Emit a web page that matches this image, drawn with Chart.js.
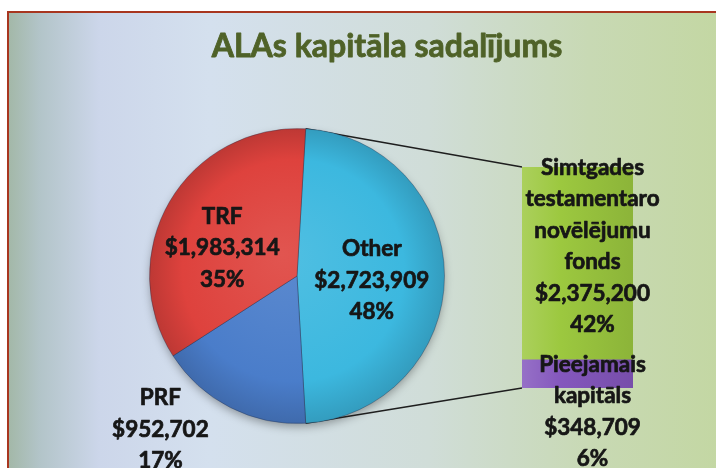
<!DOCTYPE html>
<html>
<head>
<meta charset="utf-8">
<script src="https://cdn.jsdelivr.net/npm/chart.js@4.4.0/dist/chart.umd.min.js"></script>
<style>
  html, body { margin: 0; padding: 0; width: 716px; height: 468px; overflow: hidden; background: #fff; }
  #frame {
    position: absolute; left: 7px; top: 11px; width: 720px; height: 470px;
    border-left: 2px solid #a8361f; border-top: 2px solid #a8361f;
    background: linear-gradient(to right, #a3b8a8 0px, #b2c4c8 30px, #ccd6ea 90px, #d4e0ee 200px,
      #d0ddd8 420px, #c8d9b4 580px, #c3d7a2 716px);
  }
  canvas { position: absolute; left: 0; top: 0; }
</style>
</head>
<body>
<div id="frame"></div>
<canvas id="bar" width="716" height="468"></canvas>
<canvas id="pie" width="716" height="468"></canvas>
<script>
  // data
  const chartTitle = 'ALAs kapitāla sadalījums';
  const pieLabels = ['Other', 'PRF', 'TRF'];
  const pieValues = [2723909, 952702, 1983314];
  // secondary bar (breakdown of "Other"), bottom to top
  const splitLabels = [['Pieejamais', 'kapitāls'], ['Simtgades', 'testamentaro', 'novēlējumu', 'fonds']];
  const splitValues = [348709, 2375200];

  const pieColors = ['#3cb8df', '#4a7dca', '#de423d'];
  const splitColors = ['#8457bd', '#9cc83f'];

  const total = pieValues.reduce((a, b) => a + b, 0);
  const splitTotal = splitValues.reduce((a, b) => a + b, 0);
  const money = v => '$' + v.toLocaleString('en-US');
  const pct = v => Math.round(v / total * 100) + '%';

  const labelFont = 'bold 22.5px Lato';
  const lineGap = 31.5;

  function shade(hex, amt) {
    // amt > 0 lightens, < 0 darkens
    const n = parseInt(hex.slice(1), 16);
    let r = n >> 16, g = (n >> 8) & 255, b = n & 255;
    const t = amt > 0 ? 255 : 0, p = Math.abs(amt);
    r = Math.round(r + (t - r) * p); g = Math.round(g + (t - g) * p); b = Math.round(b + (t - b) * p);
    return `rgb(${r},${g},${b})`;
  }

  // heavier text (the original uses a heavy bold face)
  function heavyText(ctx, t, x, y, w) {
    ctx.lineWidth = w;
    ctx.strokeStyle = ctx.fillStyle;
    ctx.lineJoin = 'round';
    ctx.strokeText(t, x, y);
    ctx.fillText(t, x, y);
  }

  function drawBlock(ctx, lines, x, y) {
    const n = lines.length;
    lines.forEach((t, i) => heavyText(ctx, t, x, y + (i - (n - 1) / 2) * lineGap, 0.7));
  }

  // ---------- secondary stacked bar ----------
  const barLabelOffsets = [[15, 38], [15, -17]];
  const barLabels = {
    id: 'barLabels',
    afterDatasetsDraw(chart) {
      const ctx = chart.ctx;
      ctx.save();
      ctx.font = labelFont;
      ctx.fillStyle = '#161616';
      ctx.textAlign = 'center';
      ctx.textBaseline = 'middle';
      splitValues.forEach((v, i) => {
        const el = chart.getDatasetMeta(i).data[0];
        const lines = [...splitLabels[i], money(v), pct(v)];
        drawBlock(ctx, lines, el.x + barLabelOffsets[i][0], (el.y + el.base) / 2 + barLabelOffsets[i][1]);
      });
      ctx.restore();
    }
  };

  const barChart = new Chart(document.getElementById('bar'), {
    type: 'bar',
    data: {
      labels: [''],
      datasets: splitValues.map((v, i) => ({
        label: splitLabels[i].join(' '),
        data: [v],
        backgroundColor: (c) => {
          const a = c.chart.chartArea;
          if (!a) return splitColors[i];
          const g = c.chart.ctx.createLinearGradient(a.left, 0, a.right, 0);
          g.addColorStop(0, shade(splitColors[i], 0.15));
          g.addColorStop(0.35, splitColors[i]);
          g.addColorStop(1, shade(splitColors[i], -0.1));
          return g;
        },
        borderWidth: 0,
        barPercentage: 1,
        categoryPercentage: 1
      }))
    },
    options: {
      responsive: false,
      animation: false,
      layout: { padding: { left: 522, right: 83, top: 167, bottom: 80 } },
      scales: {
        x: { display: false, stacked: true },
        y: { display: false, stacked: true, min: 0, max: splitTotal }
      },
      plugins: { legend: { display: false }, tooltip: { enabled: false } }
    },
    plugins: [barLabels]
  });

  // ---------- main pie ----------
  const titlePlugin = {
    id: 'titleText',
    afterDraw(chart) {
      const ctx = chart.ctx;
      ctx.save();
      ctx.font = 'bold 32px Lato';
      ctx.fillStyle = '#4f6228';
      ctx.textAlign = 'center';
      ctx.textBaseline = 'middle';
      heavyText(ctx, chartTitle, 387, 47, 0.8);
      ctx.restore();
    }
  };

  // shadow + series lines to the bar, drawn under the slices
  const connector = {
    id: 'connector',
    beforeDatasetsDraw(chart) {
      const ctx = chart.ctx;
      const arc = chart.getDatasetMeta(0).data[0];
      const R = arc.outerRadius;
      ctx.save();
      ctx.shadowColor = 'rgba(0,0,0,0.35)';
      ctx.shadowBlur = 10;
      ctx.shadowOffsetY = 4;
      ctx.fillStyle = '#777';
      ctx.beginPath();
      ctx.arc(arc.x, arc.y, R - 1, 0, Math.PI * 2);
      ctx.fill();
      ctx.restore();

      const top = barChart.getDatasetMeta(splitValues.length - 1).data[0];
      const bottom = barChart.getDatasetMeta(0).data[0];
      const left = top.x - top.width / 2;
      ctx.save();
      ctx.strokeStyle = '#1e1e1e';
      ctx.lineWidth = 1.5;
      ctx.beginPath();
      ctx.moveTo(arc.x + R * Math.cos(arc.startAngle), arc.y + R * Math.sin(arc.startAngle));
      ctx.lineTo(left, top.y);
      ctx.moveTo(arc.x + R * Math.cos(arc.endAngle), arc.y + R * Math.sin(arc.endAngle));
      ctx.lineTo(left, bottom.base);
      ctx.stroke();
      ctx.restore();
    }
  };

  const pieLabelOffsets = [[0.507, 0.03], [-0.926, 1.04], [-0.507, -0.19]];
  const pieText = {
    id: 'pieText',
    afterDatasetsDraw(chart) {
      const ctx = chart.ctx;
      ctx.save();
      ctx.font = labelFont;
      ctx.fillStyle = '#161616';
      ctx.textAlign = 'center';
      ctx.textBaseline = 'middle';
      chart.getDatasetMeta(0).data.forEach((arc, i) => {
        const R = arc.outerRadius;
        const lines = [pieLabels[i], money(pieValues[i]), pct(pieValues[i])];
        drawBlock(ctx, lines, arc.x + pieLabelOffsets[i][0] * R, arc.y + pieLabelOffsets[i][1] * R);
      });
      ctx.restore();
    }
  };

  new Chart(document.getElementById('pie'), {
    type: 'pie',
    data: {
      labels: pieLabels,
      datasets: [{
        data: pieValues,
        backgroundColor: (c) => {
          const col = pieColors[c.dataIndex];
          const a = c.chart.chartArea;
          if (!a) return col;
          const cx = (a.left + a.right) / 2, cy = (a.top + a.bottom) / 2;
          const r = Math.min(a.width, a.height) / 2;
          const g = c.chart.ctx.createRadialGradient(cx - r * 0.1, cy - r * 0.15, 0, cx, cy, r);
          g.addColorStop(0, shade(col, 0.1));
          g.addColorStop(0.75, col);
          g.addColorStop(1, shade(col, -0.15));
          return g;
        },
        borderColor: 'rgba(30,40,70,0.35)',
        borderWidth: 1
      }]
    },
    options: {
      responsive: false,
      animation: false,
      rotation: 90 - 180 * pieValues[0] / total,
      layout: { padding: { left: 149, right: 271, top: 128, bottom: 44 } },
      plugins: { legend: { display: false }, tooltip: { enabled: false } }
    },
    plugins: [titlePlugin, connector, pieText]
  });
</script>
</body>
</html>
